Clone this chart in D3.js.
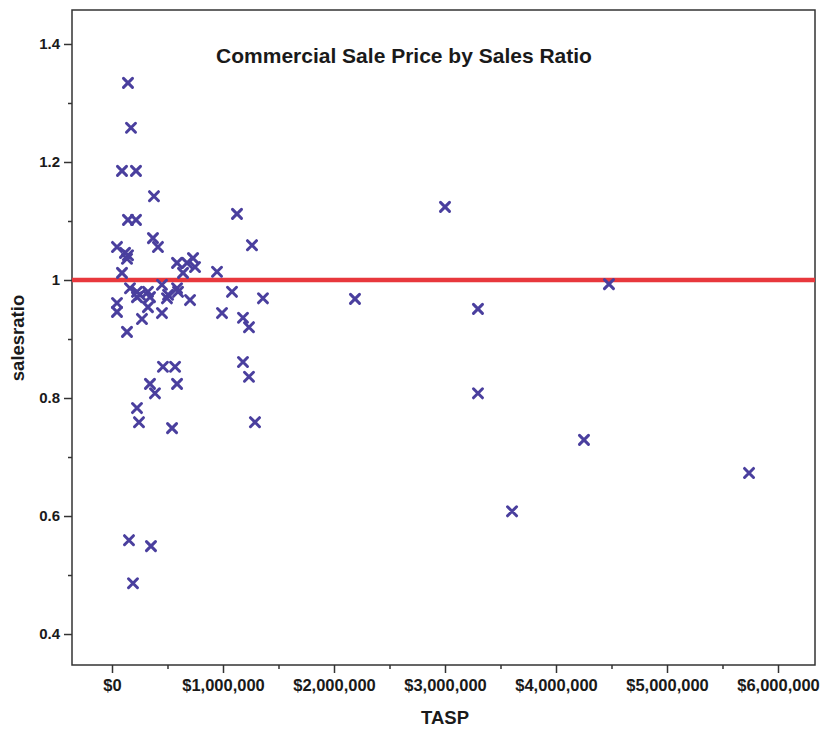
<!DOCTYPE html>
<html>
<head>
<meta charset="utf-8">
<script src="https://cdn.jsdelivr.net/npm/d3@7"></script>
<style>
  html, body { margin: 0; padding: 0; background: #ffffff; }
  svg { display: block; }
  text { font-family: "Liberation Sans", Arial, sans-serif; font-weight: bold; fill: #1a1a1a; }
</style>
</head>
<body>
<svg id="chart" width="825" height="729"></svg>
<script>
// ---- Data ----
const title = "Commercial Sale Price by Sales Ratio";
const xLabel = "TASP";
const yLabel = "salesratio";

// TASP (sale price, $) for each sale
const tasp = [
  144000, 171000, 90000, 216000, 378000, 144000, 216000, 1126000, 369000, 414000,
  45000, 117000, 144000, 135000, 1261000, 3000000, 586000, 676000, 730000, 748000,
  946000, 90000, 640000, 162000, 225000, 252000, 225000, 324000, 342000, 450000,
  505000, 495000, 586000, 595000, 1081000, 1360000, 703000, 45000, 45000, 324000,
  450000, 270000, 991000, 1180000, 1234000, 135000, 459000, 568000, 1180000, 1234000,
  342000, 387000, 586000, 225000, 243000, 1288000, 541000, 153000, 351000, 189000,
  2189000, 3297000, 3297000, 3604000, 4252000, 4477000, 5739000
];
// sales ratio for each sale (same order)
const salesRatio = [
  1.334, 1.258, 1.185, 1.185, 1.142, 1.102, 1.102, 1.112, 1.071, 1.056,
  1.056, 1.046, 1.042, 1.036, 1.059, 1.124, 1.029, 1.029, 1.037, 1.022,
  1.014, 1.012, 1.012, 0.986, 0.980, 0.975, 0.971, 0.980, 0.971, 0.992,
  0.975, 0.969, 0.986, 0.980, 0.980, 0.969, 0.966, 0.961, 0.946, 0.954,
  0.944, 0.934, 0.944, 0.936, 0.920, 0.912, 0.853, 0.853, 0.861, 0.836,
  0.824, 0.808, 0.824, 0.783, 0.759, 0.759, 0.749, 0.559, 0.549, 0.486,
  0.968, 0.951, 0.808, 0.608, 0.729, 0.993, 0.673
];
// reference line at ratio = 1
const refRatio = 1.0;

const xTicks = [0, 1000000, 2000000, 3000000, 4000000, 5000000, 6000000];
const xMinorTicks = [500000, 1500000, 2500000, 3500000, 4500000, 5500000];
const yTicks = [0.4, 0.6, 0.8, 1.0, 1.2, 1.4];
const yMinorTicks = [0.5, 0.7, 0.9, 1.1, 1.3];

// ---- Layout ----
const svg = d3.select("#chart");
const frame = { left: 72, right: 815, top: 10, bottom: 665 };

const x = d3.scaleLinear().domain([-360360, 6333333]).range([frame.left, frame.right]);
const y = d3.scaleLinear().domain([0.3475, 1.4576]).range([frame.bottom, frame.top]);

// frame
svg.append("rect")
  .attr("x", frame.left).attr("y", frame.top)
  .attr("width", frame.right - frame.left).attr("height", frame.bottom - frame.top)
  .attr("fill", "#ffffff").attr("stroke", "#333333").attr("stroke-width", 1.5);

// x axis
const fmtDollar = d => "$" + d3.format(",")(d);
const xAxis = svg.append("g").attr("transform", `translate(0,${frame.bottom})`)
  .call(d3.axisBottom(x).tickValues(xTicks).tickFormat(fmtDollar).tickSize(8).tickPadding(6));
svg.append("g").attr("transform", `translate(0,${frame.bottom})`)
  .call(d3.axisBottom(x).tickValues(xMinorTicks).tickFormat("").tickSize(4));

// y axis
const fmtRatio = d => d3.format("~g")(+d.toFixed(1));
const yAxis = svg.append("g").attr("transform", `translate(${frame.left},0)`)
  .call(d3.axisLeft(y).tickValues(yTicks).tickFormat(fmtRatio).tickSize(8).tickPadding(4));
svg.append("g").attr("transform", `translate(${frame.left},0)`)
  .call(d3.axisLeft(y).tickValues(yMinorTicks).tickFormat("").tickSize(4));

svg.selectAll(".domain").remove();
svg.selectAll(".tick line").attr("stroke", "#333333").attr("stroke-width", 1.5);
xAxis.selectAll(".tick text").attr("font-size", 16.5).attr("font-family", "Liberation Sans, Arial").attr("font-weight", "bold").attr("fill", "#1a1a1a");
yAxis.selectAll(".tick text").attr("font-size", 15).attr("font-family", "Liberation Sans, Arial").attr("font-weight", "bold").attr("fill", "#1a1a1a");

// reference line
svg.append("line")
  .attr("x1", frame.left).attr("x2", frame.right)
  .attr("y1", y(refRatio)).attr("y2", y(refRatio))
  .attr("stroke", "#e8383d").attr("stroke-width", 4.5);

// points (X markers)
const pts = tasp.map((t, i) => ({ t, r: salesRatio[i] }));
const s = 4.5;
svg.append("g").selectAll("path").data(pts).join("path")
  .attr("d", `M${-s},${-s}L${s},${s}M${-s},${s}L${s},${-s}`)
  .attr("transform", d => `translate(${x(d.t)},${y(d.r)})`)
  .attr("stroke", "#4a3f9e").attr("stroke-width", 3).attr("stroke-linecap", "round")
  .attr("fill", "none");

// title
svg.append("text").attr("x", 404).attr("y", 63).attr("text-anchor", "middle")
  .attr("font-size", 21).text(title);

// axis labels
svg.append("text").attr("x", 445).attr("y", 724).attr("text-anchor", "middle")
  .attr("font-size", 18.5).text(xLabel);
svg.append("text").attr("transform", "translate(24,338) rotate(-90)").attr("text-anchor", "middle")
  .attr("font-size", 18.5).text(yLabel);
</script>
</body>
</html>
